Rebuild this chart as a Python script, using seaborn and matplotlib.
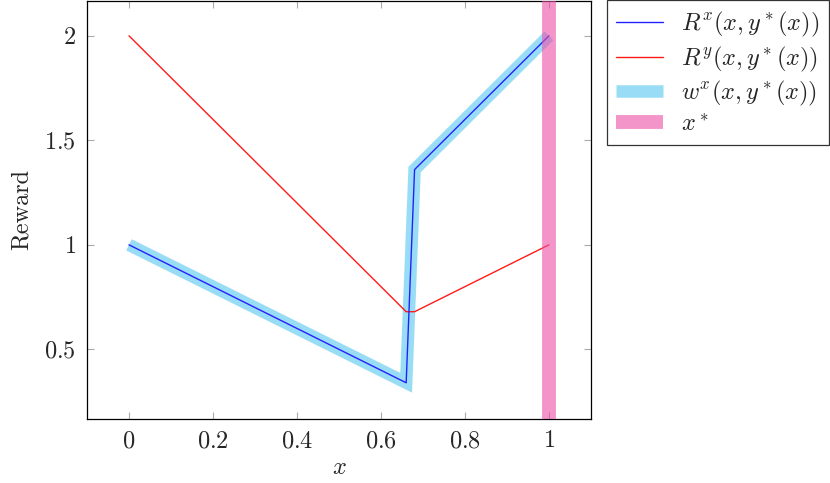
import matplotlib
matplotlib.use("Agg")
import matplotlib.pyplot as plt
import seaborn as sns
import pandas as pd

# data
x_vals = [0.0, 0.66, 0.68, 1.0]
rx_vals = [1.0, 0.34, 1.36, 2.0]
ry_vals = [2.0, 0.68, 0.68, 1.0]
wx_vals = [1.0, 0.34, 1.36, 2.0]
x_star = 1.0

xticks = [0, 0.2, 0.4, 0.6, 0.8, 1]
xtick_labels = ["0", "0.2", "0.4", "0.6", "0.8", "1"]
yticks = [0.5, 1, 1.5, 2]
ytick_labels = ["0.5", "1", "1.5", "2"]

sns.set_style("white")
plt.rcParams["font.family"] = ["serif"]
plt.rcParams["font.serif"] = ["cmr10"]
plt.rcParams["mathtext.fontset"] = "cm"
plt.rcParams["axes.unicode_minus"] = False

df = pd.DataFrame({"x": x_vals, "rx": rx_vals, "ry": ry_vals, "wx": wx_vals})

fig = plt.figure(figsize=(8.3, 4.83), dpi=100)
ax = fig.add_axes([0.1048, 0.1325, 0.6072, 0.8655])

fs = 17.5
sns.lineplot(data=df, x="x", y="rx", ax=ax, color="#2222ff", lw=1.0,
             label=r"$R^x(x,y^*(x))$", sort=False, zorder=4)
sns.lineplot(data=df, x="x", y="ry", ax=ax, color="#ff1a1a", lw=1.0,
             label=r"$R^y(x,y^*(x))$", sort=False, zorder=3)
sns.lineplot(data=df, x="x", y="wx", ax=ax, color="#33bbee", alpha=0.5, lw=9,
             label=r"$w^x(x,y^*(x))$", sort=False, zorder=2,
             solid_joinstyle="miter", solid_capstyle="butt")
ax.axvline(x_star, color="#ee4fa8", alpha=0.6, lw=10, label=r"$x^*$", zorder=5,
           solid_capstyle="butt")

ax.set_xlim(-0.1, 1.1)
ax.set_ylim(0.1667, 2.1667)
ax.set_xticks(xticks)
ax.set_xticklabels(["$" + t + "$" for t in xtick_labels], fontsize=fs)
ax.set_yticks(yticks)
ax.set_yticklabels(["$" + t + "$" for t in ytick_labels], fontsize=fs)
ax.tick_params(direction="in", length=5, color="#aaaaaa", width=0.8,
               top=True, right=True, bottom=True, left=True, pad=8)
ax.set_xlabel(r"$x$", fontsize=fs, labelpad=3)
ax.set_ylabel("Reward", fontsize=fs, labelpad=8)
for s in ax.spines.values():
    s.set_color("black")
    s.set_linewidth(0.9)

leg = ax.legend(loc="upper left", bbox_to_anchor=(0.731, 0.999),
                bbox_transform=fig.transFigure, borderaxespad=0,
                fontsize=fs, frameon=True, fancybox=False, edgecolor="black",
                handlelength=1.9, labelspacing=0.22, borderpad=0.4,
                handletextpad=0.75)
leg.get_frame().set_linewidth(0.9)

fig.savefig("out.png", dpi=100)
